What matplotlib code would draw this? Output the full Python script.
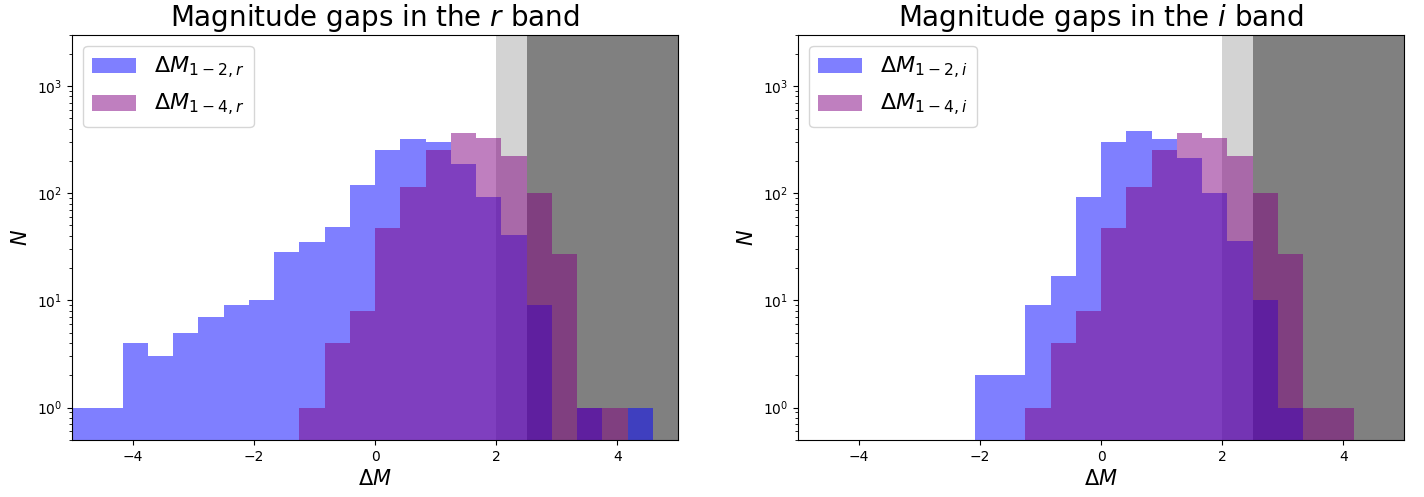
import numpy as np
import matplotlib
matplotlib.use("Agg")
import matplotlib.pyplot as plt

# bin edges shared by both bands (24 bins over [-5, 5])
edges = np.linspace(-5, 5, 25)
centers = 0.5 * (edges[:-1] + edges[1:])

# counts per bin, r band
gap12_r = [1, 1, 4, 3, 5, 7, 9, 10, 28, 35, 48, 120,
           253, 323, 297, 189, 93, 41, 9, 0, 1, 0, 1, 0]
gap14_r = [0, 0, 0, 0, 0, 0, 0, 0, 0, 1, 4, 8,
           47, 115, 250, 367, 330, 224, 101, 27, 1, 1, 0, 0]

# counts per bin, i band
gap12_i = [0, 0, 0, 0, 0, 0, 0, 2, 2, 9, 17, 93,
           297, 376, 323, 215, 101, 36, 10, 1, 0, 0, 0, 0]
gap14_i = [0, 0, 0, 0, 0, 0, 0, 0, 0, 1, 4, 8,
           47, 115, 250, 367, 330, 224, 101, 27, 1, 1, 0, 0]

bands = ["r", "i"]
gap12 = [gap12_r, gap12_i]
gap14 = [gap14_r, gap14_i]

fig, axes = plt.subplots(1, 2, figsize=(14.24, 4.97))
plt.subplots_adjust(left=0.0506, right=0.986, bottom=0.115, top=0.930, wspace=0.198)

for ax, band, n12, n14 in zip(axes, bands, gap12, gap14):
    # fossil-group thresholds
    ax.axvspan(2.0, 2.5, color="lightgray", lw=0)
    ax.axvspan(2.5, 5.0, color="gray", lw=0)
    ax.hist(centers, bins=edges, weights=n12, color="blue", alpha=0.5, log=True,
            label=r"$\Delta M_{1-2,%s}$" % band)
    ax.hist(centers, bins=edges, weights=n14, color="purple", alpha=0.5, log=True,
            label=r"$\Delta M_{1-4,%s}$" % band)
    ax.set_xlim(-5, 5)
    ax.set_ylim(0.5, 3000)
    ax.set_title(r"Magnitude gaps in the $%s$ band" % band, fontsize=20)
    ax.set_xlabel(r"$\Delta M$", fontsize=15)
    ax.set_ylabel(r"$N$", fontsize=15)
    ax.legend(loc="upper left", fontsize=16)

plt.savefig("out.png", dpi=100)
